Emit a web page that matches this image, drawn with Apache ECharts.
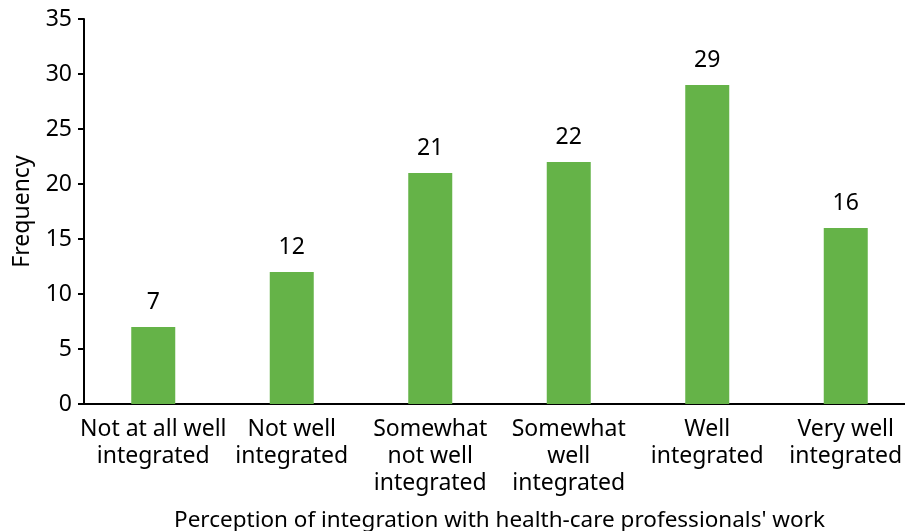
<!DOCTYPE html>
<html><head><meta charset="utf-8">
<script src="https://cdn.jsdelivr.net/npm/echarts@6/dist/echarts.min.js"></script>
<style>html,body{margin:0;padding:0;background:#fff}#c{width:905px;height:531px}</style>
</head><body><div id="c"></div>
<script>
const categories = ["Not at all well\nintegrated", "Not well\nintegrated", "Somewhat\nnot well\nintegrated", "Somewhat\nwell\nintegrated", "Well\nintegrated", "Very well\nintegrated"];
const frequencies = [7, 12, 21, 22, 29, 16];
const yTicks = [0, 35, 5];
const xTitle = "Perception of integration with health-care professionals' work";
const yTitle = "Frequency";

const FONT = "Noto Sans";
const FS = 23;
const chart = echarts.init(document.getElementById('c'));
chart.setOption({
  animation: false,
  textStyle: { fontFamily: FONT, color: '#000' },
  grid: { left: 84, right: -10, top: 19, bottom: 127, containLabel: false, outerBoundsMode: 'none' },
  xAxis: {
    type: 'category', data: categories,
    axisLine: { lineStyle: { color: '#000', width: 2 } },
    axisTick: { show: false },
    axisLabel: { color: '#000', fontFamily: FONT, fontSize: FS, lineHeight: 27, margin: 12, interval: 0 },
    name: xTitle, nameLocation: 'middle', nameGap: 105,
    nameTextStyle: { color: '#000', fontFamily: FONT, fontSize: 22.5 }
  },
  yAxis: {
    type: 'value', min: yTicks[0], max: yTicks[1], interval: yTicks[2],
    axisLine: { show: true, lineStyle: { color: '#000', width: 2 } },
    axisTick: { show: true, length: 6, lineStyle: { color: '#000', width: 2 } },
    splitLine: { show: false },
    axisLabel: { color: '#000', fontFamily: FONT, fontSize: FS, margin: 12 },
    name: yTitle, nameLocation: 'middle', nameGap: 50, nameRotate: 90,
    nameTextStyle: { color: '#000', fontFamily: FONT, fontSize: FS }
  },
  series: [{
    type: 'bar', data: frequencies, barWidth: 44,
    itemStyle: { color: '#65b348' },
    label: { show: true, position: 'top', distance: 13, color: '#000', fontFamily: FONT, fontSize: FS }
  }]
});
</script></body></html>
